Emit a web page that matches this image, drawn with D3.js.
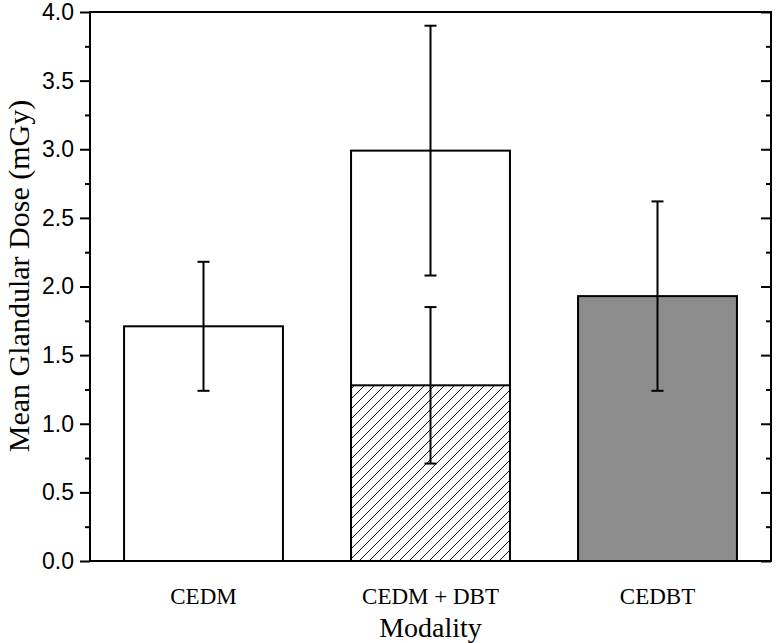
<!DOCTYPE html>
<html><head><meta charset="utf-8">
<script src="https://cdn.jsdelivr.net/npm/d3@7"></script>
<style>body{margin:0;background:#fff}svg{display:block}</style>
</head><body>
<svg id="c" width="776" height="643"></svg>
<script>
const categories = ["CEDM", "CEDM + DBT", "CEDBT"];
const totalValues = [1.71, 2.99, 1.93];
const totalErrors = [0.47, 0.91, 0.69];
const partCategory = "CEDM + DBT";
const partValue = 1.28;
const partError = 0.57;
const fills = ["#ffffff", "#ffffff", "#8c8c8c"];
const yTicks = [0, 0.5, 1, 1.5, 2, 2.5, 3, 3.5, 4];
const yMinorTicks = [0.25, 0.75, 1.25, 1.75, 2.25, 2.75, 3.25, 3.75];

const svg = d3.select("#c");
const L = 90, R = 771, T = 12, B = 561;
const x = d3.scaleBand().domain(categories).range([L, R]).paddingInner(0.3).paddingOuter(0.15);
const y = d3.scaleLinear().domain([0, 4]).range([B, T]);

const defs = svg.append("defs");
const pat = defs.append("pattern").attr("id", "hatch").attr("patternUnits", "userSpaceOnUse")
  .attr("width", 10).attr("height", 10);
pat.append("rect").attr("width", 10).attr("height", 10).attr("fill", "#fff");
pat.append("path").attr("d", "M-1,1 l2,-2 M0,10 l10,-10 M9,11 l2,-2")
  .attr("stroke", "#111").attr("stroke-width", 1);

// bars
svg.selectAll("rect.bar").data(categories).join("rect").attr("class", "bar")
  .attr("x", d => x(d)).attr("width", x.bandwidth())
  .attr("y", (d, i) => y(totalValues[i])).attr("height", (d, i) => y(0) - y(totalValues[i]))
  .attr("fill", (d, i) => fills[i]).attr("stroke", "#000").attr("stroke-width", 2);

svg.append("rect").attr("x", x(partCategory)).attr("width", x.bandwidth())
  .attr("y", y(partValue)).attr("height", y(0) - y(partValue))
  .attr("fill", "url(#hatch)").attr("stroke", "#000").attr("stroke-width", 2);

// error bars
const errs = categories.map((c, i) => ({c, v: totalValues[i], e: totalErrors[i]}));
errs.push({c: partCategory, v: partValue, e: partError});
const cap = 6;
const eg = svg.append("g").attr("stroke", "#000").attr("stroke-width", 2).attr("fill", "none");
errs.forEach(d => {
  const cx = x(d.c) + x.bandwidth() / 2;
  eg.append("line").attr("x1", cx).attr("x2", cx).attr("y1", y(d.v + d.e)).attr("y2", y(d.v - d.e));
  eg.append("line").attr("x1", cx - cap).attr("x2", cx + cap).attr("y1", y(d.v + d.e)).attr("y2", y(d.v + d.e));
  eg.append("line").attr("x1", cx - cap).attr("x2", cx + cap).attr("y1", y(d.v - d.e)).attr("y2", y(d.v - d.e));
});

// axes
const yl = svg.append("g").attr("transform", `translate(${L},0)`)
  .call(d3.axisLeft(y).tickValues(yTicks).tickSize(10).tickPadding(6).tickFormat(d3.format(".1f")));
yl.select(".domain").remove();
yl.selectAll("line").attr("stroke-width", 2);
yl.selectAll("text").attr("font-family", "'Liberation Sans', Arial, sans-serif").attr("font-size", 23).attr("fill", "#000");
const ylm = svg.append("g").attr("transform", `translate(${L},0)`)
  .call(d3.axisLeft(y).tickValues(yMinorTicks).tickSize(5).tickFormat(""));
ylm.select(".domain").remove();
ylm.selectAll("line").attr("stroke-width", 2);

const yr = svg.append("g").attr("transform", `translate(${R},0)`)
  .call(d3.axisLeft(y).tickValues(yTicks).tickSize(10).tickFormat(""));
yr.select(".domain").remove();
yr.selectAll("line").attr("stroke-width", 2);
const yrm = svg.append("g").attr("transform", `translate(${R},0)`)
  .call(d3.axisLeft(y).tickValues(yMinorTicks).tickSize(5).tickFormat(""));
yrm.select(".domain").remove();
yrm.selectAll("line").attr("stroke-width", 2);

const xa = svg.append("g").attr("transform", `translate(0,${B})`)
  .call(d3.axisBottom(x).tickSize(0).tickPadding(27));
xa.select(".domain").remove();
xa.selectAll("text").attr("font-family", "'Liberation Serif', 'Times New Roman', serif").attr("font-size", 23).attr("fill", "#000");

// frame
svg.append("rect").attr("x", L).attr("y", T).attr("width", R - L).attr("height", B - T)
  .attr("fill", "none").attr("stroke", "#000").attr("stroke-width", 2);

// titles
svg.append("text").attr("x", (L + R) / 2).attr("y", 637).attr("text-anchor", "middle")
  .attr("font-family", "'Liberation Serif', 'Times New Roman', serif").attr("font-size", 28).text("Modality");
svg.append("text").attr("transform", `translate(29,276) rotate(-90)`).attr("text-anchor", "middle")
  .attr("font-family", "'Liberation Serif', 'Times New Roman', serif").attr("font-size", 30).text("Mean Glandular Dose (mGy)");
</script>
</body></html>
